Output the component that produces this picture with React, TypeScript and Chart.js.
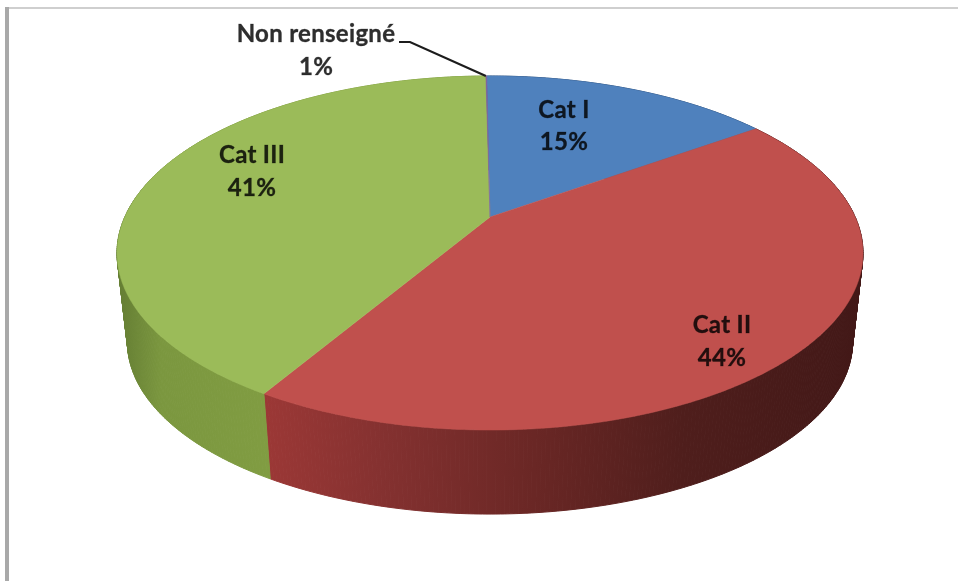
import React, { useEffect, useRef } from "react";
import { Chart, registerables } from "chart.js";

Chart.register(...registerables);

const categories = ["Cat I", "Cat II", "Cat III", "Non renseigné"];
const values = [15.3, 43.4, 41.25, 0.05];
const percentLabels = ["15%", "44%", "41%", "1%"];
const topColors = ["#4f81bd", "#c0504d", "#9bbb59", "#8064a2"];

// Perspective of the disc: maps the unit circle of each arc to the picture.
const CX = 490;
const CY = 217;
const A = 365.2;
const B = 169.7;
const K = 0.2034;
const SIDE_SCALE = 0.972;
const SIDE_DROP = 90;

const project = (angle: number) => {
  const u = Math.cos(angle);
  const v = Math.sin(angle);
  const w = 1 - K * v;
  return { x: CX + (A * u) / w, y: CY + (B * v) / w };
};
const projectBottom = (angle: number) => {
  const p = project(angle);
  return { x: CX + (p.x - CX) * SIDE_SCALE, y: CY + (p.y - CY) * SIDE_SCALE + SIDE_DROP };
};

const sideStops: [number, string][][] = [
  [[0, "#2f4f78"], [1, "#2f4f78"]],
  [[0, "#9c3836"], [0.2, "#843130"], [0.45, "#6a2725"], [0.7, "#4f1e1c"], [1, "#421817"]],
  [[0, "#647d33"], [0.12, "#7b973f"], [0.6, "#84a044"], [1, "#799740"]],
  [[0, "#4d3c63"], [1, "#4d3c63"]],
];

const labelPlaces = [
  { x: 564, y: 126.5 },
  { x: 722, y: 342 },
  { x: 252, y: 172 },
  { x: 316, y: 51 },
];
const LINE_GAP = 32.5;

const pie3d = {
  id: "pie3d",
  beforeDatasetDraw() {
    return false;
  },
  afterDatasetsDraw(chart: any) {
    const ctx = chart.ctx as CanvasRenderingContext2D;
    const arcs = chart.getDatasetMeta(0).data as any[];
    const colors = chart.data.datasets[0].backgroundColor as string[];
    const samples = (a: any) => {
      const n = Math.max(2, Math.ceil((a.endAngle - a.startAngle) / 0.01));
      const out: number[] = [];
      for (let i = 0; i <= n; i++) out.push(a.startAngle + ((a.endAngle - a.startAngle) * i) / n);
      return out;
    };
    ctx.save();
    // side walls: one small quad per step so the wall reaches the outline of the disc
    arcs.forEach((a, i) => {
      const angles = samples(a);
      const top = angles.map(project);
      const bottom = angles.map(projectBottom);
      const xs = top.concat(bottom).map((p) => p.x);
      const grad = ctx.createLinearGradient(Math.min(...xs), 0, Math.max(...xs), 0);
      sideStops[i].forEach(([o, c]) => grad.addColorStop(o, c));
      ctx.fillStyle = grad;
      ctx.strokeStyle = grad;
      ctx.lineWidth = 1;
      for (let j = 0; j < top.length - 1; j++) {
        ctx.beginPath();
        ctx.moveTo(top[j].x, top[j].y);
        ctx.lineTo(top[j + 1].x, top[j + 1].y);
        ctx.lineTo(bottom[j + 1].x, bottom[j + 1].y);
        ctx.lineTo(bottom[j].x, bottom[j].y);
        ctx.closePath();
        ctx.fill();
        ctx.stroke();
      }
    });
    // top faces
    arcs.forEach((a, i) => {
      ctx.beginPath();
      ctx.moveTo(CX, CY);
      samples(a).map(project).forEach((p) => ctx.lineTo(p.x, p.y));
      ctx.closePath();
      ctx.fillStyle = colors[i];
      ctx.fill();
      ctx.strokeStyle = colors[i];
      ctx.lineWidth = 0.5;
      ctx.stroke();
    });
    // leader line of the smallest slice
    const last = arcs[arcs.length - 1];
    const tip = project(last.startAngle);
    ctx.beginPath();
    ctx.moveTo(399, 42);
    ctx.lineTo(410, 42);
    ctx.lineTo(tip.x, tip.y);
    ctx.strokeStyle = "#1c1c1c";
    ctx.lineWidth = 2.2;
    ctx.stroke();
    // labels
    ctx.font = "bold 24px Lato";
    (ctx as any).letterSpacing = "0.3px";
    ctx.textAlign = "center";
    ctx.textBaseline = "middle";
    ctx.fillStyle = "rgba(0,0,0,0.82)";
    ctx.strokeStyle = "rgba(0,0,0,0.5)";
    ctx.lineWidth = 0.5;
    chart.data.labels.forEach((name: string, i: number) => {
      const p = labelPlaces[i];
      ctx.fillText(name, p.x, p.y - LINE_GAP / 2);
      ctx.strokeText(name, p.x, p.y - LINE_GAP / 2);
      ctx.fillText(percentLabels[i], p.x, p.y + LINE_GAP / 2);
      ctx.strokeText(percentLabels[i], p.x, p.y + LINE_GAP / 2);
    });
    ctx.restore();
  },
};

export default function App() {
  const ref = useRef<HTMLCanvasElement>(null);
  useEffect(() => {
    document.body.style.margin = "0";
    document.body.style.background = "#fff";
    const chart = new Chart(ref.current!, {
      type: "pie",
      data: {
        labels: categories,
        datasets: [{ data: values, backgroundColor: topColors, borderWidth: 0 }],
      },
      options: {
        responsive: false,
        animation: false,
        rotation: -0.6,
        plugins: { legend: { display: false }, tooltip: { enabled: false } },
      },
      plugins: [pie3d],
    } as any);
    return () => chart.destroy();
  }, []);
  return (
    <div style={{ position: "relative", width: 958, height: 581, overflow: "hidden", background: "#fff" }}>
      <div style={{ position: "absolute", left: 5, top: 7, width: 953, height: 2, background: "#cfcfcf" }} />
      <div style={{ position: "absolute", left: 5, top: 7, width: 4, height: 574, background: "#a9a9a9" }} />
      <canvas
        ref={ref}
        width={958}
        height={581}
        style={{ position: "absolute", left: 0, top: 0, width: 958, height: 581, filter: "blur(0.7px)" }}
      />
    </div>
  );
}
